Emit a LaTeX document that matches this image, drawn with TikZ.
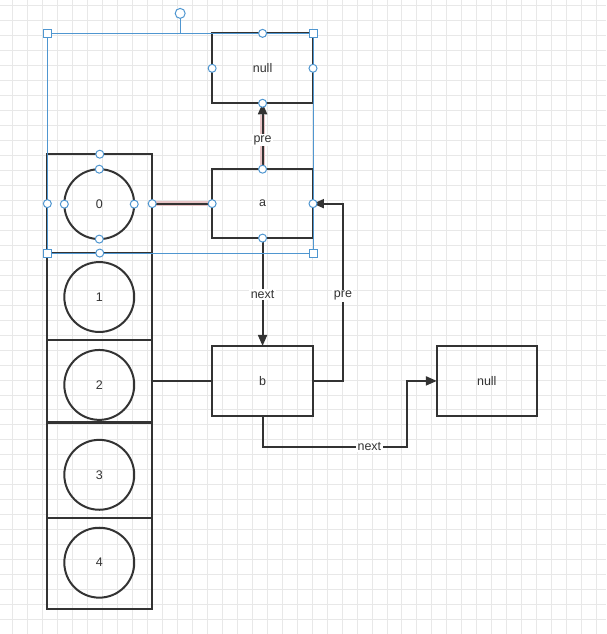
\documentclass[tikz,border=0pt]{standalone}
\usepackage{fontspec}
\setmainfont{Liberation Sans}
\usetikzlibrary{arrows.meta}
\definecolor{ink}{HTML}{333333}
\definecolor{selblue}{HTML}{4F96D0}
\definecolor{gridc}{HTML}{E8E8E8}
\definecolor{pinkglow}{RGB}{232,196,198}
\begin{document}
\begin{tikzpicture}[x=1pt,y=-1pt,
  lblfont/.style={font=\fontsize{12.5}{14}\selectfont},
  box/.style={draw=ink,line width=2pt,minimum width=101pt,minimum height=70pt,inner sep=0pt,outer sep=0pt,lblfont,text=ink},
  cellbox/.style={draw=ink,line width=2pt,minimum width=105pt,inner sep=0pt,outer sep=0pt},
  ring/.style={draw=ink,line width=2pt,circle,minimum size=70pt,inner sep=0pt,outer sep=0pt,lblfont,text=ink},
  conn/.style={draw=ink,line width=2pt},
  arr/.style={conn,-{Triangle[length=11pt,width=9pt]}},
  glow/.style={draw=pinkglow,line width=4.5pt},
  lbl/.style={fill=white,inner sep=1.5pt,lblfont,text=ink},
  selline/.style={draw=selblue,line width=1pt},
  hcirc/.style={draw=selblue,fill=white,line width=1pt},
]
% background and grid
\fill[white] (0,0) rectangle (606,634);
\foreach \gx in {12,27,...,605} {\draw[gridc,line width=0.8pt] (\gx,0) -- (\gx,634);}
\foreach \gy in {5,20,...,633} {\draw[gridc,line width=0.8pt] (0,\gy) -- (606,\gy);}
\useasboundingbox (0,0) rectangle (606,634);

% array cells
\node[cellbox,minimum height=99pt] (cell0) at (99.5,203.5) {};
\node[cellbox,minimum height=87pt] (cell1) at (99.5,296.5) {};
\node[cellbox,minimum height=82pt] (cell2) at (99.5,381) {};
\node[cellbox,minimum height=95pt] (cell3) at (99.5,470.5) {};
\node[cellbox,minimum height=91pt] (cell4) at (99.5,563.5) {};
\node[ring] (c0) at (99,204) {0};
\node[ring] (c1) at (99,297) {1};
\node[ring] (c2) at (99,385) {2};
\node[ring] (c3) at (99,475) {3};
\node[ring] (c4) at (99,563) {4};

% list nodes
\node[box,minimum height=70pt] (nullT) at (262.5,68) {null};
\node[box,minimum height=69pt] (a) at (262.5,203.5) {a};
\node[box] (b) at (262.5,381) {b};
\node[box,minimum width=100pt] (nullR) at (487,381) {null};

% connectors
\draw[glow] (cell0.east) -- (a.west);
\draw[conn] (cell0.east) -- (a.west);
\draw[glow,shorten >=12pt] (a.north) -- (nullT.south);
\draw[arr] (a.north) -- node[lbl,pos=0.44] {pre} (nullT.south);
\draw[arr] (a.south) -- node[lbl,pos=0.52] {next} (b.north);
\draw[arr] (b.east) -- ++(30,0) |- node[lbl,pos=0.24] {pre} (a.east);
\draw[conn] (cell2.east) -- (b.west);
\coordinate (k) at (407,381);
\draw[arr] (b.south) -- ++(0,31) coordinate (c1b) -- node[lbl,pos=0.74] {next} (c1b -| k) -- (k) -- (nullR.west);

% selection overlay
\draw[selline] (47,33) rectangle (313,253);
\draw[selline] (180,33) -- (180,18);
\draw[hcirc] (180,13) circle (5pt);
\foreach \px/\py in {47/33,313/33,47/253,313/253}
  {\draw[hcirc] (\px-4,\py-4) rectangle (\px+4,\py+4);}
\foreach \n in {nullT,a,cell0,c0}
  \foreach \an in {north,south,east,west}
    {\draw[hcirc] (\n.\an) circle (4pt);}
\end{tikzpicture}
\end{document}
